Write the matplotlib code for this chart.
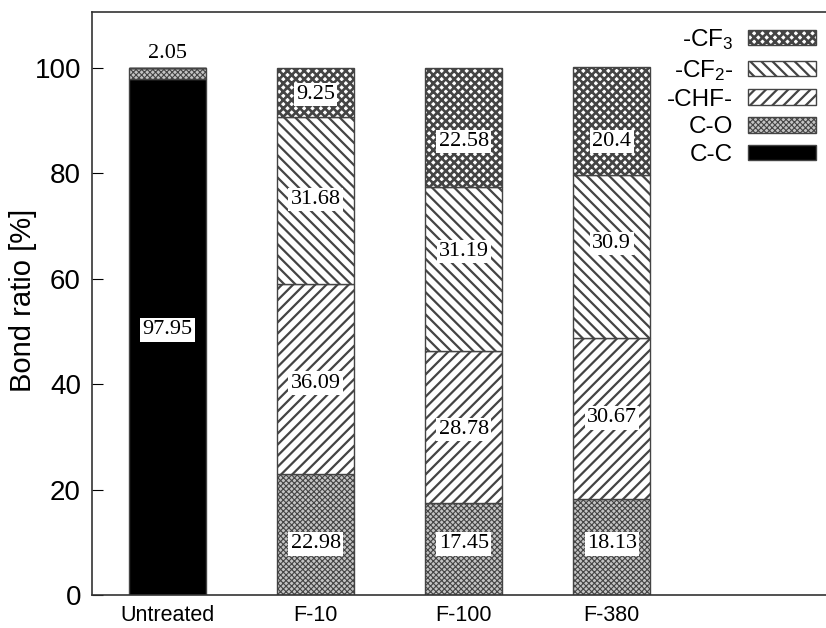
import matplotlib
matplotlib.use("Agg")
import matplotlib.pyplot as plt
import numpy as np

# bond composition per sample, in percent
samples = ["Untreated", "F-10", "F-100", "F-380"]
bonds = ["C-C", "C-O", "-CHF-", "-CF$_2$-", "-CF$_3$"]
cc = [97.95, 0, 0, 0]
co = [2.05, 22.98, 17.45, 18.13]
chf = [0, 36.09, 28.78, 30.67]
cf2 = [0, 31.68, 31.19, 30.9]
cf3 = [0, 9.25, 22.58, 20.4]

# where each value label sits (y, in data units)
label_y = {
    "cc": [50.3, None, None, None],
    "co": [102.8, 9.7, 9.7, 9.7],
    "chf": [None, 40.2, 31.4, 33.6],
    "cf2": [None, 75.0, 65.2, 66.7],
    "cf3": [None, 95.0, 86.0, 86.0],
}

plt.rcParams["font.family"] = ["Liberation Sans", "DejaVu Sans"]
plt.rcParams["mathtext.fontset"] = "custom"
plt.rcParams["mathtext.rm"] = "Liberation Sans"
plt.rcParams["mathtext.it"] = "Liberation Sans"
plt.rcParams["hatch.color"] = "#222222"

fig = plt.figure(figsize=(8.26, 6.28), dpi=100)
ax = fig.add_axes([92 / 826, 33 / 628, 745 / 826, 583 / 628])

x = np.arange(len(samples))
width = 0.52
# key, values, face colour, hatch, hatch line width
styles = [
    ("cc", cc, "black", "", 1.0),
    ("co", co, "#c4c4c4", "xxxxxx", 0.8),
    ("chf", chf, "white", "///", 1.6),
    ("cf2", cf2, "white", "\\\\\\", 1.6),
    ("cf3", cf3, "white", "xxxx", 1.9),
]

bottom = np.zeros(len(samples))
handles = []
for (key, vals, color, hatch, hlw), name in zip(styles, bonds):
    plt.rcParams["hatch.linewidth"] = hlw
    vals = np.array(vals, dtype=float)
    bars = ax.bar(x, vals, width, bottom=bottom, color=color, hatch=hatch,
                  edgecolor="#444444", linewidth=1.0, label=name)
    for p in bars:
        if hasattr(p, "set_hatch_linewidth"):
            p.set_hatch_linewidth(hlw)
    handles.append(bars)
    for i, v in enumerate(vals):
        if v > 0 and label_y[key][i] is not None:
            ax.text(x[i], label_y[key][i], f"{v:g}", ha="center", va="center",
                    fontsize=16, family="Liberation Serif",
                    bbox=dict(boxstyle="square,pad=0.1", fc="white", ec="none"))
    bottom += vals

ax.set_xlim(-0.51, 4.52)
ax.set_ylim(0, 110.6)
ax.set_xticks(x)
ax.set_xticklabels(samples, fontsize=15.5)
ax.set_yticks(np.arange(0, 101, 20))
ax.tick_params(axis="y", direction="in", length=8, labelsize=20, pad=8)
ax.tick_params(axis="x", length=0, pad=7)
ax.set_ylabel("Bond ratio [%]", fontsize=21)
ax.yaxis.set_label_coords(-0.074, 0.505)
ax.spines["right"].set_visible(False)
for s in ["top", "bottom", "left"]:
    ax.spines[s].set_color("#333333")
    ax.spines[s].set_linewidth(1.2)

leg = ax.legend(handles[::-1], bonds[::-1], loc="upper left",
                bbox_to_anchor=(655 / 826, 1 - 15 / 628), bbox_transform=fig.transFigure,
                frameon=False, markerfirst=False, fontsize=17.5,
                handlelength=2.8, handleheight=0.6, handletextpad=0.6,
                labelspacing=0.24, borderpad=0)
for t in leg.get_texts():
    t.set_ha("right")
# legend patches get the same hatch weight as their bars
for h, st in zip(leg.legend_handles, styles[::-1]):
    if hasattr(h, "set_hatch_linewidth"):
        h.set_hatch_linewidth(st[4])

fig.savefig("out.png", dpi=100)
